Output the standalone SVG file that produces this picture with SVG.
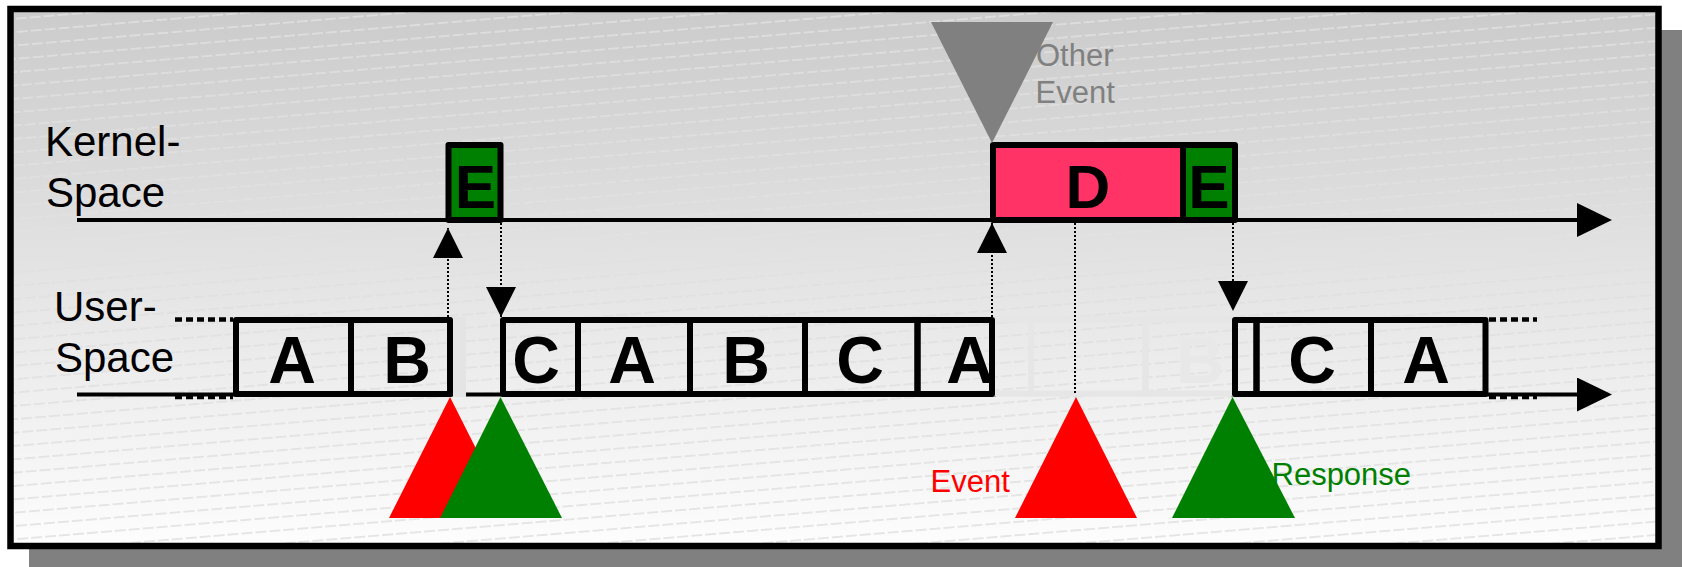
<svg xmlns="http://www.w3.org/2000/svg" width="1682" height="567" viewBox="0 0 1682 567">
  <defs>
    <!-- panel shading: grey at the top, fading to white -->
    <linearGradient id="panelFill" x1="0" y1="0" x2="0" y2="1">
      <stop offset="0" stop-color="#cbcbcb"/>
      <stop offset="1" stop-color="#fdfdfd"/>
    </linearGradient>
    <!-- faint slanted dashed rules on the panel -->
    <pattern id="hatchLight" patternUnits="userSpaceOnUse" width="14" height="13.3" patternTransform="rotate(-4.8)">
      <rect x="0" y="6" width="11" height="1.3" fill="#ffffff" fill-opacity="0.5"/>
    </pattern>
    <pattern id="hatchDark" patternUnits="userSpaceOnUse" width="14" height="13.3" patternTransform="rotate(-4.8)">
      <rect x="0" y="6" width="11" height="1.3" fill="#000000" fill-opacity="0.13"/>
    </pattern>
    <linearGradient id="fadeTop" gradientUnits="userSpaceOnUse" x1="0" y1="12" x2="0" y2="300">
      <stop offset="0" stop-color="#fff"/>
      <stop offset="1" stop-color="#000"/>
    </linearGradient>
    <linearGradient id="fadeBottom" gradientUnits="userSpaceOnUse" x1="0" y1="230" x2="0" y2="540">
      <stop offset="0" stop-color="#000"/>
      <stop offset="1" stop-color="#fff"/>
    </linearGradient>
    <mask id="upperMask" maskUnits="userSpaceOnUse" x="0" y="0" width="1682" height="567">
      <rect x="0" y="0" width="1682" height="567" fill="url(#fadeTop)"/>
    </mask>
    <mask id="lowerMask" maskUnits="userSpaceOnUse" x="0" y="0" width="1682" height="567">
      <rect x="0" y="0" width="1682" height="567" fill="url(#fadeBottom)"/>
    </mask>
    <!-- arrowheads -->
    <marker id="tipSmall" viewBox="0 0 30 30" refX="30" refY="15" markerWidth="30" markerHeight="30" markerUnits="userSpaceOnUse" orient="auto">
      <path d="M0,0 L30,15 L0,30 Z" fill="#000"/>
    </marker>
    <marker id="tipAxis" viewBox="0 0 35 34" refX="23" refY="17" markerWidth="35" markerHeight="34" markerUnits="userSpaceOnUse" orient="auto">
      <path d="M0,0 L35,17 L0,34 Z" fill="#000"/>
    </marker>
  </defs>
  <style>
    .txt { font-family: "Liberation Sans", Arial, sans-serif; }
    .lane { font-size: 42px; fill: #000; }
    .note { font-size: 31px; }
    .big { font-size: 66px; font-weight: bold; text-anchor: middle; fill: #000; }
    .kbig { font-size: 62px; font-weight: bold; text-anchor: middle; fill: #000; }
    .task { fill: none; stroke: #000; stroke-width: 6; stroke-linejoin: round; }
    .ktask { stroke: #000; stroke-width: 6; stroke-linejoin: round; }
    .ghost { fill: none; stroke: #e6e6e6; stroke-width: 6; }
    .axis { fill: none; stroke: #000; stroke-width: 4; }
    .cont { fill: none; stroke: #000; stroke-width: 4.5; stroke-dasharray: 7 4; }
    .link { fill: none; stroke: #000; stroke-width: 2; stroke-dasharray: 2 2; }
  </style>

  <!-- drop shadow and framed panel -->
  <rect x="29" y="30" width="1653" height="537" fill="#808080"/>
  <rect x="10.5" y="9" width="1648" height="537" fill="url(#panelFill)"/>
  <rect x="10.5" y="9" width="1648" height="537" fill="url(#hatchLight)" mask="url(#upperMask)"/>
  <rect x="10.5" y="9" width="1648" height="537" fill="url(#hatchDark)" mask="url(#lowerMask)"/>
  <rect x="10.5" y="9" width="1648" height="537" fill="none" stroke="#000" stroke-width="6.5"/>

  <!-- lane labels -->
  <g id="label-kernel" class="txt lane">
    <text x="45" y="156">Kernel-</text>
    <text x="46" y="207">Space</text>
  </g>
  <g id="label-user" class="txt lane">
    <text x="54" y="321">User-</text>
    <text x="55" y="372">Space</text>
  </g>

  <!-- time axes -->
  <g id="axes">
    <path class="axis" d="M77,220 H1600" marker-end="url(#tipAxis)"/>
    <path class="axis" d="M77,394.5 H996"/>
    <path class="axis" d="M1231,394.5 H1600" marker-end="url(#tipAxis)"/>
    <path d="M996,392 H1231" stroke="#d4d4d4" stroke-width="2" fill="none"/>
    <path class="cont" d="M175,319.5 H233 M175,397 H233"/>
    <path class="cont" d="M1489,319.5 H1537 M1489,397 H1537"/>
  </g>

  <!-- slots the user tasks would have used without the interruption -->
  <g id="ghost-slots">
    <rect x="453" y="317" width="13" height="80" fill="#e4e4e4"/>
    <rect class="ghost" x="992" y="319.5" width="39" height="74"/>
    <rect class="ghost" x="1031" y="319.5" width="114.5" height="74"/>
    <rect class="ghost" x="1145.5" y="319.5" width="89.5" height="74"/>
    <text class="txt big" x="1200" y="383" fill="#e8e8e8" style="fill:#e8e8e8">B</text>
  </g>

  <!-- user-space tasks -->
  <g id="task-a1"><rect class="task" x="236" y="320" width="115" height="74"/><text class="txt big" x="292" y="383">A</text></g>
  <g id="task-b1"><rect class="task" x="351" y="320" width="99" height="74"/><text class="txt big" x="407" y="383">B</text></g>
  <g id="task-c1"><rect class="task" x="503" y="320" width="75" height="74"/><text class="txt big" x="536" y="383">C</text></g>
  <g id="task-a2"><rect class="task" x="578" y="320" width="112" height="74"/><text class="txt big" x="632" y="383">A</text></g>
  <g id="task-b2"><rect class="task" x="690" y="320" width="115" height="74"/><text class="txt big" x="746" y="383">B</text></g>
  <g id="task-c2"><rect class="task" x="805" y="320" width="112.5" height="74"/><text class="txt big" x="860" y="383">C</text></g>
  <g id="task-a3"><rect class="task" x="917.5" y="320" width="74.5" height="74"/><text class="txt big" x="970" y="383">A</text></g>
  <g id="task-rest"><rect class="task" x="1235" y="320" width="21.5" height="74"/></g>
  <g id="task-c3"><rect class="task" x="1256.5" y="320" width="114.5" height="74"/><text class="txt big" x="1312" y="383">C</text></g>
  <g id="task-a4"><rect class="task" x="1371" y="320" width="114.5" height="74"/><text class="txt big" x="1426" y="383">A</text></g>

  <!-- kernel-space work -->
  <g id="kernel-e1"><rect class="ktask" x="448.5" y="145" width="52" height="75" fill="#008000"/><text class="txt kbig" x="475.5" y="208">E</text></g>
  <g id="kernel-d"><rect class="ktask" x="993" y="145" width="190" height="75" fill="#ff3366"/><text class="txt kbig" x="1088" y="208">D</text></g>
  <g id="kernel-e2"><rect class="ktask" x="1183" y="145" width="52" height="75" fill="#008000"/><text class="txt kbig" x="1209" y="208">E</text></g>

  <!-- mode switches -->
  <g id="connectors">
    <path class="link" d="M448,317 V228" marker-end="url(#tipSmall)"/>
    <path class="link" d="M501,223 V317" marker-end="url(#tipSmall)"/>
    <path class="link" d="M992,317 V223" marker-end="url(#tipSmall)"/>
    <path class="link" d="M1075,223 V393"/>
    <path class="link" d="M1233,223 V311" marker-end="url(#tipSmall)"/>
  </g>

  <!-- event markers -->
  <g id="other-event">
    <polygon points="931,22 1053,22 992,143" fill="#808080"/>
    <text class="txt note" x="1036" y="66" fill="#808080">Other</text>
    <text class="txt note" x="1035.5" y="103" fill="#808080">Event</text>
  </g>
  <g id="event-1"><polygon points="450,397 389,518 511,518" fill="#ff0000"/></g>
  <g id="response-1"><polygon points="500.5,397 440,518 562,518" fill="#008000"/></g>
  <g id="event-2">
    <polygon points="1076,397 1015,518 1137,518" fill="#ff0000"/>
    <text class="txt note" x="930.5" y="492" fill="#ff0000">Event</text>
  </g>
  <g id="response-2">
    <polygon points="1232.5,397 1172,518 1295,518" fill="#008000"/>
    <text class="txt note" x="1271.5" y="485" fill="#008000">Response</text>
  </g>
</svg>
